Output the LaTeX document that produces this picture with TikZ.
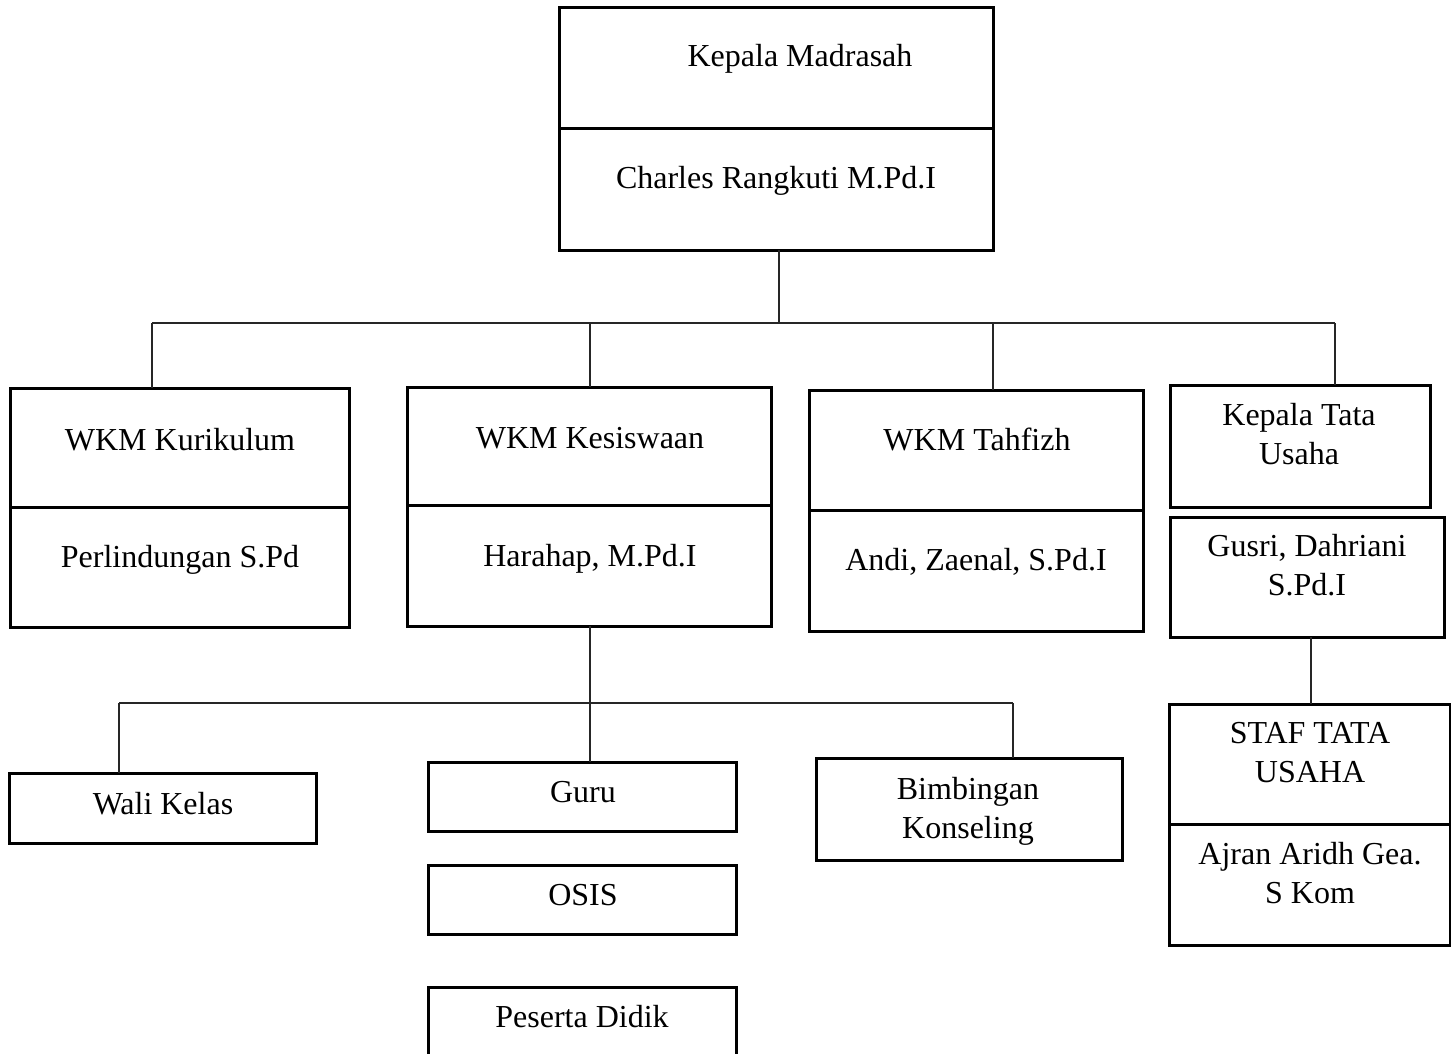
\documentclass[tikz,border=0pt]{standalone}
\usepackage{fontspec}
\setmainfont{Liberation Serif}
\begin{document}
\begin{tikzpicture}[x=1pt,y=-1pt,
  box/.style={draw=black,line width=3pt,inner sep=0pt,outer sep=0pt,rectangle},
  lbl/.style={inner sep=0pt,anchor=base,align=center,font=\fontsize{32}{39}\selectfont},
  conn/.style={draw=black!85,line width=1.4pt}]
\useasboundingbox (0,0) rectangle (1451,1054);
\fill[white] (0,0) rectangle (1451,1054);
% boxes: (left,top) rectangle (right,bottom)
\newcommand{\mybox}[5]{\node[box,minimum width={#4-#2},minimum height={#5-#3}] (#1) at ({(#2+#4)/2},{(#3+#5)/2}) {};}
\mybox{kmT}{559}{8}{993}{129}
\mybox{kmB}{559}{129}{993}{250}
\mybox{kurT}{10}{388}{349}{507}
\mybox{kurB}{10}{507}{349}{627}
\mybox{kesT}{407}{387}{771}{505}
\mybox{kesB}{407}{505}{771}{626}
\mybox{tahT}{809}{390}{1143}{510}
\mybox{tahB}{809}{510}{1143}{631}
\mybox{ktu}{1170}{385}{1430}{507}
\mybox{gus}{1170}{517}{1444}{637}
\mybox{stafT}{1169}{704}{1450}{824}
\mybox{stafB}{1169}{824}{1450}{945}
\mybox{wali}{9}{773}{316}{843}
\mybox{guru}{428}{762}{736}{831}
\mybox{osis}{428}{865}{736}{934}
\mybox{pes}{428}{987}{736}{1080}
\mybox{bk}{816}{758}{1122}{860}
% texts
\node[lbl] (tkm) at (800,67) {Kepala Madrasah};
\node[lbl] (tcr) at (776,189) {Charles Rangkuti M.Pd.I};
\node[lbl] (tkur) at (180,450) {WKM Kurikulum};
\node[lbl] (tper) at (180,567) {Perlindungan S.Pd};
\node[lbl] (tkes) at (590,448) {WKM Kesiswaan};
\node[lbl] (thar) at (590,566) {Harahap, M.Pd.I};
\node[lbl] (ttah) at (977,450) {WKM Tahfizh};
\node[lbl] (tand) at (976,570) {Andi, Zaenal, S.Pd.I};
\node[lbl] (tktu) at (1299,464) {Kepala Tata\\Usaha};
\node[lbl] (tgus) at (1307,595) {Gusri, Dahriani\\S.Pd.I};
\node[lbl] (tstaf) at (1310,782) {STAF TATA\\USAHA};
\node[lbl] (taj) at (1310,903) {Ajran Aridh Gea.\\S Kom};
\node[lbl] (twali) at (163,814) {Wali Kelas};
\node[lbl] (tguru) at (583,802) {Guru};
\node[lbl] (tosis) at (583,905) {OSIS};
\node[lbl] (tpes) at (582,1027) {Peserta Didik};
\node[lbl] (tbk) at (968,838) {Bimbingan\\Konseling};
% connector coordinates
\coordinate (j0) at (779,323);
\coordinate (b1) at (152,323);
\coordinate (b2) at (590,323);
\coordinate (b3) at (993,323);
\coordinate (b4) at (1335,323);
\coordinate (j1) at (590,703);
\coordinate (c1) at (119,703);
\coordinate (c3) at (1013,703);
\coordinate (g) at (1311,670);
% connectors
\draw[conn] (kmB.south -| j0) -- (j0);
\draw[conn] (b1) -- (b4);
\draw[conn] (b1) -- (b1 |- kurT.north);
\draw[conn] (b2) -- (b2 |- kesT.north);
\draw[conn] (b3) -- (b3 |- tahT.north);
\draw[conn] (b4) -- (b4 |- ktu.north);
\draw[conn] (kesB.south -| j1) -- (j1);
\draw[conn] (c1) -- (c3);
\draw[conn] (c1) -- (c1 |- wali.north);
\draw[conn] (j1) -- (j1 |- guru.north);
\draw[conn] (c3) -- (c3 |- bk.north);
\draw[conn] (gus.south -| g) -- (stafT.north -| g);
\end{tikzpicture}
\end{document}
